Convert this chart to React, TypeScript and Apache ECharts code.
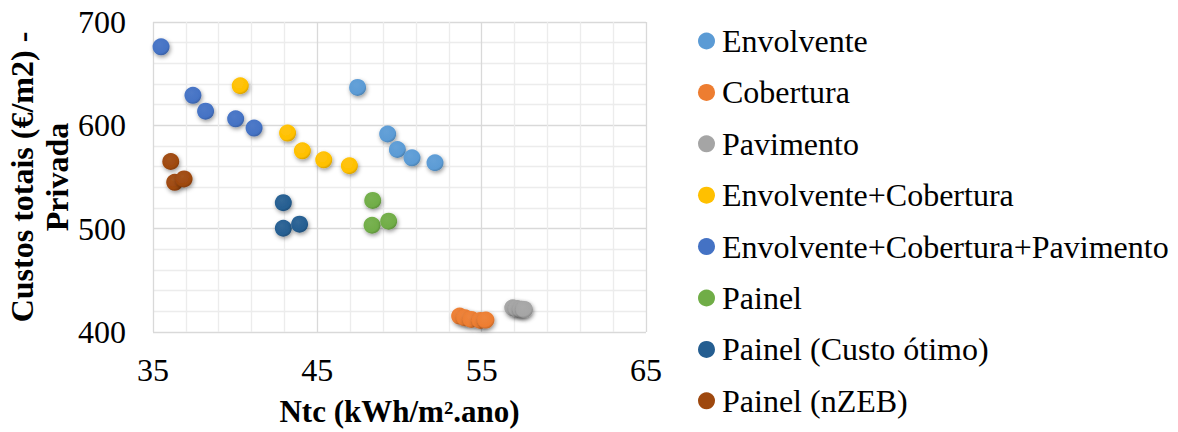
import React, { useEffect, useRef } from "react";
import * as echarts from "echarts";

const seriesNames = [
  "Envolvente",
  "Cobertura",
  "Pavimento",
  "Envolvente+Cobertura",
  "Envolvente+Cobertura+Pavimento",
  "Painel",
  "Painel (Custo ótimo)",
  "Painel (nZEB)",
];

const envolvente: [number, number][] = [
  [47.45, 636.7],
  [49.28, 591.6],
  [49.87, 576.6],
  [50.76, 568.6],
  [52.16, 563.8],
];
const cobertura: [number, number][] = [
  [53.66, 415.4],
  [53.99, 413.7],
  [54.37, 412.2],
  [54.92, 411.2],
  [55.26, 411.5],
];
const pavimento: [number, number][] = [
  [56.89, 423.4],
  [57.15, 422.7],
  [57.41, 422.1],
  [57.6, 421.8],
];
const envCob: [number, number][] = [
  [40.31, 638.3],
  [43.19, 592.5],
  [44.09, 575.3],
  [45.39, 566.6],
  [46.95, 560.9],
];
const envCobPav: [number, number][] = [
  [35.49, 676.0],
  [37.43, 629.0],
  [38.2, 613.7],
  [40.03, 606.3],
  [41.15, 597.3],
];
const painel: [number, number][] = [
  [48.37, 527.3],
  [48.33, 503.3],
  [49.34, 507.2],
];
const painelCusto: [number, number][] = [
  [42.93, 525.1],
  [42.93, 500.4],
  [43.92, 504.3],
];
const painelNZEB: [number, number][] = [
  [36.08, 565.0],
  [36.32, 544.9],
  [36.89, 548.1],
];

const seriesData = [envolvente, cobertura, pavimento, envCob, envCobPav, painel, painelCusto, painelNZEB];
const colors = ["#5B9BD5", "#ED7D31", "#A5A5A5", "#FFC000", "#4472C4", "#70AD47", "#255E91", "#9E480E"];

const xTicks = { min: 35, max: 65, interval: 10 };
const yTicks = { min: 400, max: 700, interval: 100 };

const FONT = "Liberation Serif";

function shade(hex: string, amt: number): string {
  const n = parseInt(hex.slice(1), 16);
  let r = (n >> 16) & 255, g = (n >> 8) & 255, b = n & 255;
  const f = (c: number) => {
    const v = amt >= 0 ? c + (255 - c) * amt : c * (1 + amt);
    return Math.max(0, Math.min(255, Math.round(v)));
  };
  r = f(r); g = f(g); b = f(b);
  return "#" + ((1 << 24) + (r << 16) + (g << 8) + b).toString(16).slice(1);
}

export default function App() {
  const ref = useRef<HTMLDivElement>(null);
  useEffect(() => {
    if (!ref.current) return;
    const chart = echarts.init(ref.current, undefined, { renderer: "svg" });
    const series = seriesNames.map((name, i) => ({
      name,
      type: "scatter",
      data: seriesData[i],
      symbol: "circle",
      symbolSize: 17,
      itemStyle: {
        color: new echarts.graphic.RadialGradient(0.4, 0.35, 0.65, [
          { offset: 0, color: shade(colors[i], 0.06) },
          { offset: 0.8, color: colors[i] },
          { offset: 1, color: shade(colors[i], -0.15) },
        ]),
        opacity: 1,
        shadowBlur: 4,
        shadowOffsetX: 1,
        shadowOffsetY: 2,
        shadowColor: "rgba(0,0,0,0.4)",
      },
    }));
    chart.setOption({
      animation: false,
      backgroundColor: "#ffffff",
      textStyle: { fontFamily: FONT },
      grid: { left: 153, right: 532, top: 22, bottom: 98, containLabel: false },
      legend: {
        orient: "vertical",
        left: 698,
        top: 23,
        padding: 0,
        itemGap: 15.4,
        itemWidth: 17,
        itemHeight: 17,
        icon: "circle",
        textStyle: { fontFamily: FONT, fontSize: 32, color: "#000", lineHeight: 36, padding: [0, 0, 0, 2] },
        data: seriesNames.map((n, i) => ({ name: n, itemStyle: { color: colors[i], shadowBlur: 0 } })),
      },
      xAxis: {
        type: "value",
        min: xTicks.min,
        max: xTicks.max,
        interval: xTicks.interval,
        name: "Ntc (kWh/m².ano)",
        nameLocation: "middle",
        nameGap: 64,
        nameTextStyle: { fontFamily: FONT, fontSize: 31, fontWeight: "bold", color: "#000" },
        axisLine: { show: false },
        axisTick: { show: false },
        axisLabel: { fontFamily: FONT, fontSize: 32, color: "#000", margin: 22 },
        splitLine: { show: true, lineStyle: { color: "#d9d9d9", width: 1.3 } },
        minorTick: { show: false, splitNumber: 5 },
        minorSplitLine: { show: true, lineStyle: { color: "#ececec", width: 1.3 } },
      },
      yAxis: {
        type: "value",
        min: yTicks.min,
        max: yTicks.max,
        interval: yTicks.interval,
        name: "Custos totais (€/m2) -\nPrivada",
        nameLocation: "middle",
        nameGap: 76,
        nameRotate: 90,
        nameTextStyle: { fontFamily: FONT, fontSize: 32, fontWeight: "bold", color: "#000", lineHeight: 35, align: "center" },
        axisLine: { show: false },
        axisTick: { show: false },
        axisLabel: { fontFamily: FONT, fontSize: 32, color: "#000", margin: 27 },
        splitLine: { show: true, lineStyle: { color: "#d9d9d9", width: 1.3 } },
        minorTick: { show: false, splitNumber: 5 },
        minorSplitLine: { show: true, lineStyle: { color: "#ececec", width: 1.3 } },
      },
      series,
    });
    return () => chart.dispose();
  }, []);
  return <div ref={ref} style={{ width: 1178, height: 432, position: "absolute", left: 0, top: 0 }} />;
}
